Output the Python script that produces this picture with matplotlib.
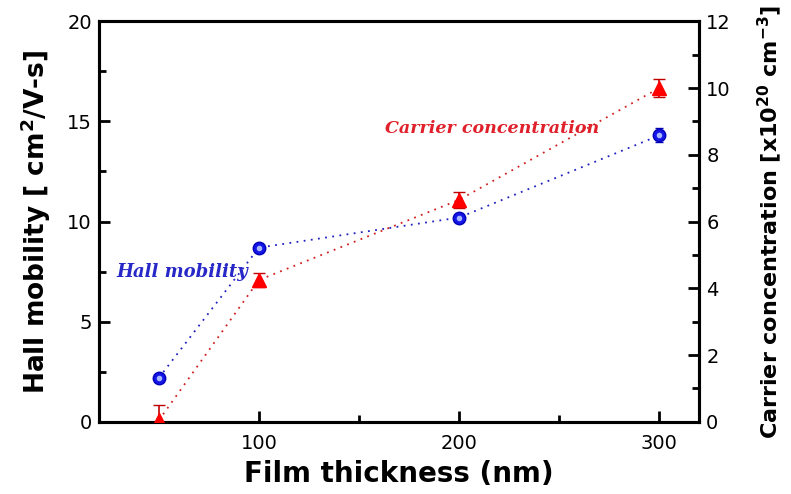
import matplotlib
matplotlib.use("Agg")
import matplotlib.pyplot as plt

# Данные
thickness = [50, 100, 200, 300]
hall_mobility = [2.2, 8.7, 10.2, 14.3]
hall_err = [0.2, 0.2, 0.2, 0.35]
carrier_conc = [0.05, 4.25, 6.65, 10.0]
carrier_err = [0.45, 0.2, 0.25, 0.28]

plt.rcParams["font.family"] = ["DejaVu Sans"]
plt.rcParams["mathtext.default"] = "bf"

fig = plt.figure(figsize=(7.91, 4.94), dpi=100)
ax = fig.add_axes([0.125, 0.146, 0.759, 0.811])
ax2 = ax.twinx()

# Подвижность Холла (левая ось)
ax.errorbar(thickness, hall_mobility, yerr=hall_err, fmt="o", color="#1515e8",
            markersize=9, markeredgecolor="#0000b8", ecolor="#0000b8",
            capsize=3, elinewidth=1.2, zorder=5)
ax.plot(thickness, hall_mobility, linestyle=(0, (1, 3)), color="#2020c0", linewidth=1.3)
ax.plot(thickness, hall_mobility, "o", color="#a8b8ff", markersize=3, zorder=6)

# Концентрация носителей (правая ось)
ax2.errorbar(thickness, carrier_conc, yerr=carrier_err, fmt="^", color="#ff0000",
             markersize=10, ecolor="#c00000", capsize=4, elinewidth=1.2, zorder=5)
ax2.plot(thickness, carrier_conc, linestyle=(0, (1, 3)), color="#d02020", linewidth=1.3)

ax.set_xlim(20, 320)
ax.set_ylim(0, 20)
ax2.set_ylim(0, 12)
ax.set_xticks([100, 200, 300])
ax.set_xticks([50, 150, 250], minor=True)
ax.set_yticks([0, 5, 10, 15, 20])
ax.set_yticks([2.5, 7.5, 12.5, 17.5], minor=True)
ax2.set_yticks([0, 2, 4, 6, 8, 10, 12])
ax2.set_yticks([1, 3, 5, 7, 9, 11], minor=True)

for a in (ax, ax2):
    for s in a.spines.values():
        s.set_linewidth(2.2)
    a.tick_params(which="major", direction="in", length=8, width=2, labelsize=14, pad=5)
    a.tick_params(which="minor", direction="in", length=5, width=2)
ax.tick_params(axis="x", pad=9)
ax.tick_params(top=False, which="both")

ax.set_xlabel("Film thickness (nm)", fontsize=20, fontweight="bold", labelpad=5)
ax.set_ylabel("Hall mobility [ cm$^{2}$/V-s]", fontsize=19, fontweight="bold", labelpad=10)
ax2.set_ylabel("Carrier concentration [x10$^{20}$ cm$^{-3}$]",
               fontsize=16, fontweight="bold", labelpad=18)

ax.text(29, 7.23, "Hall mobility", color="#2828c8", fontsize=13, fontstyle="italic",
        fontweight="bold", family="DejaVu Serif", va="baseline")
ax.text(163, 14.43, "Carrier concentration", color="#e0202a", fontsize=12.6, fontstyle="italic",
        fontweight="bold", family="DejaVu Serif", va="baseline")

fig.savefig("out.png", dpi=100)
